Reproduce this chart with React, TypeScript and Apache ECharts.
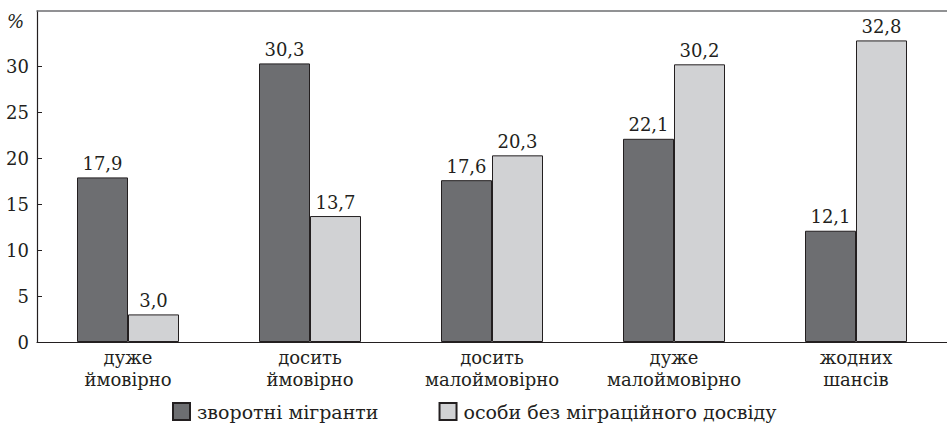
import React, { useEffect, useRef } from "react";
import * as echarts from "echarts";

const categories = ["дуже\nймовірно", "досить\nймовірно", "досить\nмалоймовірно", "дуже\nмалоймовірно", "жодних\nшансів"];
const returnMigrants = [17.9, 30.3, 17.6, 22.1, 12.1];
const noMigration = [3.0, 13.7, 20.3, 30.2, 32.8];
const seriesNames = ["зворотні мігранти", "особи без міграційного досвіду"];
const yTicks = [0, 5, 10, 15, 20, 25, 30];

const FONT = "DejaVu Serif";

export default function App() {
  const ref = useRef<HTMLDivElement>(null);
  useEffect(() => {
    const chart = echarts.init(ref.current!, null, { renderer: "svg" });
    const fmt = (p: any) => Number(p.value).toFixed(1).replace(".", ",");
    chart.setOption({
      animation: false,
      textStyle: { fontFamily: FONT },
      grid: { left: 37, right: 0, top: 11, bottom: 85, containLabel: false },
      legend: {
        bottom: 1,
        left: 167,
        itemWidth: 17,
        itemHeight: 17,
        itemGap: 60,
        icon: "rect",
        textStyle: { fontFamily: FONT, fontSize: 19, color: "#231f20", padding: [0, 0, 0, 2] },
        data: seriesNames,
      },
      graphic: [
        {
          type: "text",
          left: 7,
          top: 12,
          style: { text: "%", fontFamily: FONT, fontStyle: "italic", fontSize: 18, fill: "#231f20" },
        },
      ],
      xAxis: [
        {
          type: "category",
          data: categories,
          axisLine: { lineStyle: { color: "#231f20", width: 1.2 } },
          axisTick: { inside: true, length: 6, lineStyle: { color: "#231f20" } },
          axisLabel: {
            fontFamily: FONT,
            fontSize: 18,
            color: "#231f20",
            lineHeight: 22,
            margin: 4,
            interval: 0,
          },
        },
        {
          type: "category",
          position: "top",
          data: categories,
          axisLine: { lineStyle: { color: "#6d6e71", width: 1.5 } },
          axisTick: { show: false },
          axisLabel: { show: false },
        },
      ],
      yAxis: {
        type: "value",
        min: 0,
        max: 36,
        interval: 5,
        splitLine: { show: false },
        axisLine: { show: true, lineStyle: { color: "#231f20", width: 1.2 } },
        axisTick: { show: true, inside: true, length: 5, customValues: yTicks, lineStyle: { color: "#231f20" } },
        axisLabel: {
          customValues: yTicks,
          fontFamily: FONT,
          fontSize: 18,
          color: "#231f20",
          margin: 8,
        },
      },
      series: [
        {
          name: seriesNames[0],
          type: "bar",
          data: returnMigrants,
          barWidth: 51,
          barGap: "0%",
          itemStyle: { color: "#6d6e71", borderColor: "#231f20", borderWidth: 1 },
          label: { show: true, position: "top", distance: 5, formatter: fmt, fontFamily: FONT, fontSize: 18, color: "#231f20" },
        },
        {
          name: seriesNames[1],
          type: "bar",
          data: noMigration,
          barWidth: 51,
          barGap: "0%",
          itemStyle: { color: "#d1d2d4", borderColor: "#231f20", borderWidth: 1 },
          label: { show: true, position: "top", distance: 5, formatter: fmt, fontFamily: FONT, fontSize: 18, color: "#231f20" },
        },
      ],
    });
    return () => chart.dispose();
  }, []);
  return <div ref={ref} style={{ position: "fixed", left: 0, top: 0, width: "947px", height: "427px", background: "#fff" }} />;
}
